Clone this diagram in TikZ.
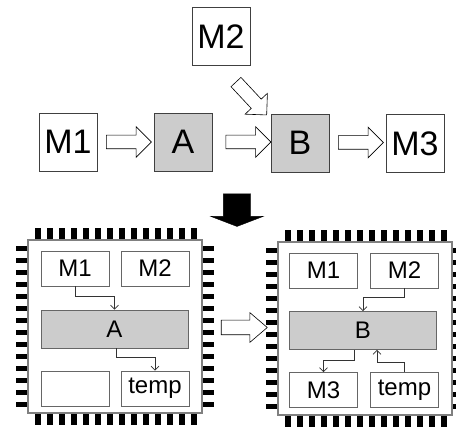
\documentclass[tikz,border=0pt]{standalone}
\usepackage{fontspec}
\setmainfont{Liberation Sans}
\usetikzlibrary{shapes.arrows,arrows.meta}
\definecolor{boxgray}{HTML}{CCCCCC}
\begin{document}
\begin{tikzpicture}[x=1pt,y=-1pt,
 bigbox/.style={draw=black!75, line width=0.8pt, minimum width=58pt, minimum height=58pt, inner sep=0pt, font=\fontsize{34}{37}\selectfont},
 proc/.style={fill=boxgray},
 ibox/.style={draw=black!60, line width=0.9pt, inner sep=0pt, minimum width=68pt, minimum height=35pt, font=\fontsize{24}{27}\selectfont},
 wide/.style={minimum width=147pt, minimum height=38pt},
 blockarrow/.style={single arrow, draw=black, fill=white, line width=0.6pt, inner sep=6.5pt, minimum height=45pt, single arrow head extend=8.5pt, single arrow head indent=0pt},
 conn/.style={draw=black!80, line width=0.6pt, -{Straight Barb[length=4pt,width=8pt]}},
 pin/.style={fill=black},
 chipbody/.style={draw=gray, line width=1.3pt, fill=white}]
\clip (0,0) rectangle (456,430);
\fill[white] (0,0) rectangle (456,430);

% ---- top flow ----
\node[bigbox] (M1) at (68,142) {M1};
\node[bigbox,proc] (A) at (183,142) {A};
\node[bigbox,proc] (B) at (300,143) {B};
\node[bigbox] (M3) at (415,143.5) {M3};
\node[bigbox] (M2) at (221,36.5) {M2};

\node[blockarrow] (a1) at (125.5,142) {};
\node[blockarrow] (a2) at (245,142) {};
\node[blockarrow] (a3) at (357.5,142.5) {};
\node[blockarrow, rotate=-47] (a4) at (249,96) {};

% big black arrow
\node[single arrow, fill=black, draw=black, inner sep=13.5pt, minimum height=29pt,
      single arrow head extend=12.5pt, single arrow tip angle=138, single arrow head indent=0pt,
      rotate=-90] (down) at (237,207.5) {};

% ---- chips ----
\foreach \ox/\oy in {28/240, 278/242} {
  \begin{scope}[shift={(\ox,\oy)}]
    \foreach \i in {0,...,13} {
      \fill[pin] (7+12*\i,-12) rectangle ++(5.5,12);
      \fill[pin] (7+12*\i,173) rectangle ++(5.5,12);
      \fill[pin] (-12,5.75+12*\i) rectangle ++(12,5.5);
      \fill[pin] (174,5.75+12*\i) rectangle ++(12,5.5);
    }
    \draw[chipbody] (0,0) rectangle (174,173);
  \end{scope}
}

% left chip
\node[ibox] (lM1) at (75,268.5) {M1};
\node[ibox] (lM2) at (155,268.5) {M2};
\node[ibox,wide,proc] (lA) at (114.5,329) {A};
\node[ibox] (lE) at (75,388.5) {};
\node[ibox] (lT) at (155,388.5) {temp};
\draw[conn] (lM1.south) -- ++(0,10) -| (lA.north);
\draw[conn] ([xshift=2pt]lA.south) -- ++(0,9) -| (lT.north);

% right chip
\node[ibox] (rM1) at (323.5,270.5) {M1};
\node[ibox] (rM2) at (404.5,270.5) {M2};
\node[ibox,wide,proc] (rB) at (363,330.5) {B};
\node[ibox] (rM3) at (323.5,390) {M3};
\node[ibox] (rT) at (404.5,390) {temp};
\draw[conn] (rM2.south) -- ++(0,9) -| (rB.north);
\draw[conn] ([xshift=-9pt]rB.south) -- ++(0,10) -| (rM3.north);
\draw[conn] (rT.north) -- ++(0,-10) -| ([xshift=14pt]rB.south);

% arrow between chips
\node[blockarrow, inner sep=7pt, minimum height=46pt, single arrow head extend=7.5pt, single arrow tip angle=81] (a5) at (240,327.5) {};
\end{tikzpicture}
\end{document}
